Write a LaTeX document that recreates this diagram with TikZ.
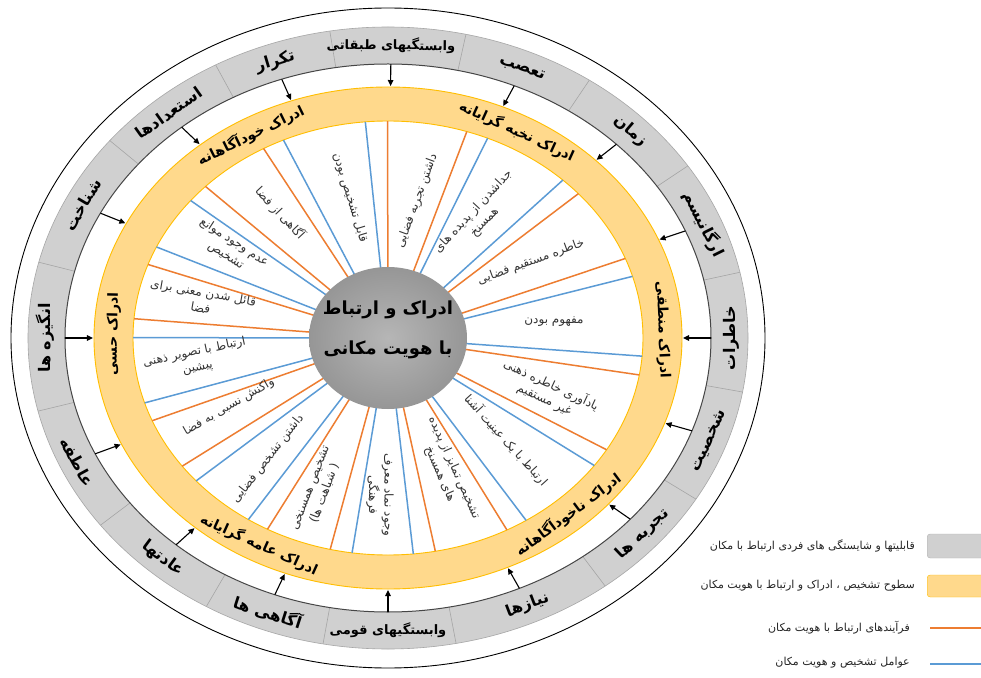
\documentclass[tikz,border=0pt]{standalone}
\usepackage{fontspec}
\usetikzlibrary{arrows.meta}
\TeXXeTstate=1
\newfontfamily\farsi[Script=Arabic]{DejaVu Sans}
\newcommand\fa[1]{{\farsi\beginR #1\endR}}
\definecolor{ringgray}{RGB}{208,208,208}
\definecolor{ringedge}{RGB}{70,70,70}
\definecolor{sepgray}{RGB}{165,165,165}
\definecolor{orfill}{RGB}{255,217,140}
\definecolor{oredge}{RGB}{255,190,0}
\definecolor{spokeor}{RGB}{237,125,49}
\definecolor{spokebl}{RGB}{91,155,213}
\definecolor{hubin}{RGB}{182,182,182}
\definecolor{hubout}{RGB}{150,150,150}
\begin{document}
\begin{tikzpicture}[x=1pt,y=1pt,
  graylab/.style={font=\bfseries\fontsize{16}{18}\selectfont, inner sep=0pt},
  graylong/.style={font=\bfseries\fontsize{13}{15}\selectfont, inner sep=0pt},
  orlab/.style={font=\bfseries\fontsize{14}{16}\selectfont, inner sep=0pt},
  spoketxt/.style={font=\fontsize{12}{15.5}\selectfont, text=black!80, align=center, inner sep=0pt},
  legtxt/.style={font=\fontsize{11}{13}\selectfont, text=black!85, anchor=east, inner sep=0pt},
  orline/.style={spokeor, line width=1.5pt},
  blline/.style={spokebl, line width=1.5pt},
  inarrow/.style={-{Triangle[length=6pt,width=5.5pt]}, line width=1.1pt, black}
]
\useasboundingbox (-388,-339) rectangle (593,338);
\fill[white] (-388,-339) rectangle (593,338);
\coordinate (ctr) at (0,0);

% outer thin ellipse
\draw[line width=0.9pt] (ctr) ellipse [x radius=377, y radius=330];

% gray band
\fill[ringgray, even odd rule] (ctr) ellipse [x radius=360, y radius=311]
                               (ctr) ellipse [x radius=323, y radius=274];
\foreach \a in {165.9,140.6,118.6,99.3,77.5,56,33.6,12.2,-10,-31.2,-52.9,-79.1,-100.4,-120.3,-143,-166.4}{
  \draw[sepgray, line width=0.6pt] ({323*cos(\a)},{274*sin(\a)}) -- ({360*cos(\a)},{311*sin(\a)});
}
\draw[gray!70, line width=0.6pt] (ctr) ellipse [x radius=360, y radius=311];
\draw[ringedge, line width=1pt] (ctr) ellipse [x radius=323, y radius=274];

% arrows from gray band to orange ring
\foreach \a [count=\i] in {0,23,45,67,89.5,109.2,129.7,152.9,180,205,229,249.5,270,294,318.6,340.2}{
  \coordinate (at\i) at ({323*cos(\a)},{274*sin(\a)});
  \coordinate (ah\i) at ({295*cos(\a)},{252*sin(\a)});
  \draw[inarrow] (at\i) -- (ah\i);
}

% orange ring
\fill[orfill, even odd rule] (ctr) ellipse [x radius=294, y radius=251]
                             (ctr) ellipse [x radius=255, y radius=217];
\draw[oredge, line width=0.9pt] (ctr) ellipse [x radius=294, y radius=251];
\draw[oredge, line width=0.9pt] (ctr) ellipse [x radius=255, y radius=217];

% spokes
\foreach \a [count=\i from 0] in {92.6,116.7,138.2,157.7,177.4,199.9,218.7,239.3,259.4,278.2,300.3,326.5,352.7,19,44.2,69.5}{
  \pgfmathsetmacro\sg{2*mod(\i,2)-1}
  \pgfmathsetmacro\ao{\a+\sg*2.5}
  \pgfmathsetmacro\ab{\a-\sg*2.5}
  \coordinate (so\i) at ({255*cos(\ao)},{217*sin(\ao)});
  \coordinate (sb\i) at ({255*cos(\ab)},{217*sin(\ab)});
  \draw[orline] (ctr) -- (so\i);
  \draw[blline] (ctr) -- (sb\i);
}

% hub
\shade[inner color=hubin, outer color=hubout] (ctr) ellipse [x radius=79, y radius=71];
\node[font=\bfseries\fontsize{18}{22}\selectfont, align=center, inner sep=0pt] (hubtxt) at (0,8)
  {\fa{ادراک و ارتباط}\\[18pt]\fa{با هویت مکانی}};

% gray band labels
\foreach \ang/\s/\st/\txt [count=\i] in {
  89.5/1/graylong/وابستگیهای طبقاتی,
  67/1/graylab/تعصب,
  45/1/graylab/زمان,
  23/1/graylab/ارگانیسم,
  0/-1/graylab/خاطرات,
  -20.6/-1/graylab/شخصیت,
  -42/-1/graylab/تجربه ها,
  -66/-1/graylab/نیازها,
  -90/-1/graylong/وابستگیهای قومی,
  249.5/-1/graylab/آگاهی ها,
  229/-1/graylab/عادتها,
  205/-1/graylab/عاطفه,
  180/1/graylab/انگیزه ها,
  152.9/1/graylab/شناخت,
  129.7/1/graylab/استعدادها,
  109.2/1/graylab/تکرار}{
  \pgfmathsetmacro\rot{atan2(\s*(-292.5)*cos(\ang), \s*341.5*sin(\ang))}
  \node[\st, rotate=\rot] (g\i) at ({343*cos(\ang)},{292.5*sin(\ang)}) {\fa{\txt}};
}

% orange ring labels
\foreach \ang/\s/\txt [count=\i] in {
  120/1/ادراک خودآگاهانه,
  62/1/ادراک نخبه گرایانه,
  2/1/ادراک منطقی,
  -49/-1/ادراک ناخودآگاهانه,
  242/-1/ادراک عامه گرایانه,
  179/1/ادراک حسی}{
  \pgfmathsetmacro\rot{atan2(\s*(-234)*cos(\ang), \s*274.5*sin(\ang))}
  \node[orlab, rotate=\rot] (o\i) at ({274.5*cos(\ang)},{234*sin(\ang)}) {\fa{\txt}};
}

% sector texts
\node[spoketxt, rotate=-73] (t1) at (-38,140) {\fa{قابل تشخیص بودن}};
\node[spoketxt, rotate=70] (t2) at (29,137) {\fa{داشتن تجربه فضایی}};
\node[spoketxt, rotate=47] (t3) at (91,121) {\fa{جداشدن از پدیده های}\\\fa{همسنخ}};
\node[spoketxt, rotate=20] (t4) at (143,76) {\fa{خاطره مستقیم فضایی}};
\node[spoketxt, rotate=0] (t5) at (166,16) {\fa{مفهوم بودن}};
\node[spoketxt, rotate=-25] (t6) at (160,-54) {\fa{یادآوری خاطره ذهنی}\\\fa{غیر مستقیم}};
\node[spoketxt, rotate=-48] (t7) at (118,-102) {\fa{ارتباط با یک عینیت آشنا}};
\node[spoketxt, rotate=-66] (t8) at (59,-133) {\fa{تشخیص تمایز از پدیده}\\\fa{های همسنخ}};
\node[spoketxt, rotate=-90] (t9) at (-8,-157) {\fa{وجود نماد معرف}\\\fa{فرهنگی}};
\node[spoketxt, rotate=69] (t10) at (-70,-153) {\fa{تشخیص همسنخی}\\\fa{( شباهت ها)}};
\node[spoketxt, rotate=52] (t11) at (-120,-121) {\fa{داشتن تشخص فضایی}};
\node[spoketxt, rotate=30] (t12) at (-159,-69) {\fa{واکنش نسبی به فضا}};
\node[spoketxt, rotate=12] (t13) at (-192,-22) {\fa{ارتباط با تصویر ذهنی}\\\fa{پیشین}};
\node[spoketxt, rotate=-10] (t14) at (-186,38) {\fa{قائل شدن معنی برای}\\\fa{فضا}};
\node[spoketxt, rotate=-33] (t15) at (-158,89) {\fa{عدم وجود موانع}\\\fa{تشخیص}};
\node[spoketxt, rotate=-47] (t16) at (-108,125) {\fa{آگاهی از فضا}};

% legend
\node[draw=gray!60, fill=ringgray, rounded corners=3pt, minimum width=70pt, minimum height=24pt, anchor=west, inner sep=0pt] (lg1) at (539,-208) {};
\node[legtxt] (lt1) at (527,-208) {\fa{قابلیتها و شایستگی های فردی ارتباط با مکان}};
\node[draw=oredge, fill=orfill, rounded corners=3pt, minimum width=70pt, minimum height=22pt, anchor=west, inner sep=0pt] (lg2) at (539,-248) {};
\node[legtxt] (lt2) at (527,-248) {\fa{سطوح تشخیص ، ادراک و ارتباط با هویت مکان}};
\coordinate (lo1) at (542,-290);
\coordinate (lo2) at (600,-290);
\draw[spokeor, line width=1.8pt] (lo1) -- (lo2);
\node[legtxt] (lt3) at (522,-290) {\fa{فرآیندهای ارتباط با هویت مکان}};
\coordinate (lb1) at (542,-326);
\coordinate (lb2) at (600,-326);
\draw[spokebl, line width=1.8pt] (lb1) -- (lb2);
\node[legtxt] (lt4) at (522,-325) {\fa{عوامل تشخیص و هویت مکان}};
\end{tikzpicture}
\end{document}
